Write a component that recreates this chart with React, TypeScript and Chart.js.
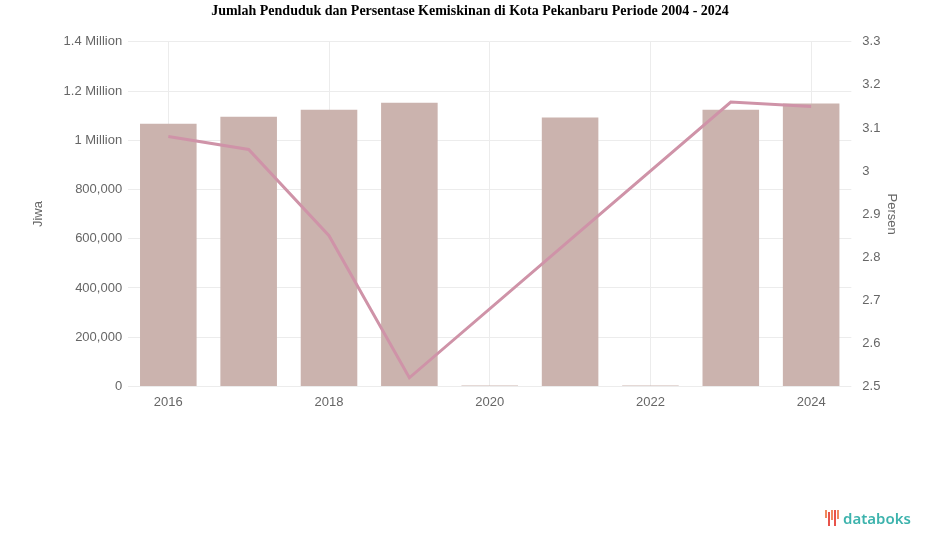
import React, { useEffect, useRef } from "react";
import { Chart, registerables } from "chart.js";

Chart.register(...registerables);

const years = ["2016", "2017", "2018", "2019", "2020", "2021", "2022", "2023", "2024"];
const population = [1067000, 1096000, 1124000, 1152000, 4000, 1092000, 4000, 1124000, 1149000];
const poverty = [3.08, 3.05, 2.85, 2.52, null, 2.84, null, 3.16, 3.15];
const leftTicks = [0, 200000, 400000, 600000, 800000, 1000000, 1200000, 1400000];
const rightTicks = [2.5, 2.6, 2.7, 2.8, 2.9, 3, 3.1, 3.2, 3.3];
const title = "Jumlah Penduduk dan Persentase Kemiskinan di Kota Pekanbaru Periode 2004 - 2024";

export default function App() {
  const ref = useRef<HTMLCanvasElement | null>(null);

  useEffect(() => {
    const canvas = ref.current;
    if (!canvas) return;
    const tickFont = { family: "'Liberation Sans', Arial, sans-serif", size: 13 };
    const chart = new Chart(canvas, {
      type: "bar",
      data: {
        labels: years,
        datasets: [
          {
            type: "line",
            label: "Persen",
            data: poverty,
            yAxisID: "y1",
            borderColor: "#cf93a8",
            backgroundColor: "#cf93a8",
            borderWidth: 3,
            pointRadius: 0,
            spanGaps: true,
            tension: 0,
            order: 0,
          },
          {
            type: "bar",
            label: "Jiwa",
            data: population,
            yAxisID: "y",
            backgroundColor: "#cbb3ae",
            categoryPercentage: 0.8,
            barPercentage: 0.88,
            order: 1,
          },
        ],
      },
      options: {
        animation: false,
        responsive: false,
        maintainAspectRatio: false,
        layout: { padding: { left: 31, right: 16, top: 3, bottom: 129 } },
        plugins: {
          legend: { display: false },
          tooltip: { enabled: false },
          title: {
            display: true,
            text: title,
            color: "#000",
            font: { family: "'Liberation Serif', 'Times New Roman', serif", size: 14, weight: "bold" },
            padding: { top: 0, bottom: 22 },
          },
        },
        scales: {
          x: {
            grid: {
              offset: false,
              color: (c: any) => (c.index % 2 === 0 ? "#ececec" : "transparent"),
              drawTicks: false,
            },
            border: { display: false },
            ticks: {
              autoSkip: false,
              maxRotation: 0,
              padding: 8,
              color: "#666",
              font: tickFont,
              callback: (_v: any, i: number) => (i % 2 === 0 ? years[i] : ""),
            },
          },
          y: {
            position: "left",
            min: leftTicks[0],
            max: leftTicks[leftTicks.length - 1],
            afterBuildTicks: (axis: any) => {
              axis.ticks = leftTicks.map((v) => ({ value: v }));
            },
            grid: { color: "#ececec", drawTicks: false },
            border: { display: false },
            ticks: {
              padding: 6,
              color: "#666",
              font: tickFont,
              callback: (v: any) =>
                v >= 1000000 ? `${v / 1000000} Million` : Number(v).toLocaleString("en-US"),
            },
            title: {
              display: true,
              text: "Jiwa",
              color: "#666",
              font: { family: "'Liberation Sans', Arial, sans-serif", size: 13 },
              padding: { top: 0, bottom: 11 },
            },
          },
          y1: {
            position: "right",
            min: rightTicks[0],
            max: rightTicks[rightTicks.length - 1],
            afterBuildTicks: (axis: any) => {
              axis.ticks = rightTicks.map((v) => ({ value: v }));
            },
            grid: { display: false },
            border: { display: false },
            ticks: {
              padding: 3,
              color: "#666",
              font: tickFont,
              callback: (v: any) => String(Math.round(v * 10) / 10),
            },
            title: {
              display: true,
              text: "Persen",
              color: "#666",
              font: { family: "'Liberation Sans', Arial, sans-serif", size: 13 },
              padding: { top: 10, bottom: 0 },
            },
          },
        },
      },
    });
    return () => chart.destroy();
  }, []);

  return (
    <div style={{ position: "fixed", left: 0, top: 0, width: 925, height: 547, background: "#fff" }}>
      <canvas ref={ref} width={925} height={547} style={{ display: "block" }} />
      <div
        style={{
          position: "absolute",
          left: 825,
          top: 508,
          display: "flex",
          alignItems: "center",
          fontFamily: "'Noto Sans', Roboto, sans-serif",
          fontSize: 15,
          fontWeight: 600,
          color: "#3db3ad",
        }}
      >
        <span style={{ display: "flex", alignItems: "flex-end", height: 16, marginRight: 3 }}>
          {[8, 14, 10, 16, 9].map((h, i) => (
            <span
              key={i}
              style={{
                display: "inline-block",
                width: 2,
                height: h,
                marginRight: 1,
                background: i % 2 === 0 ? "#f08a5d" : "#e8534a",
                alignSelf: i % 2 === 0 ? "flex-start" : "flex-end",
              }}
            />
          ))}
        </span>
        <span>databoks</span>
      </div>
    </div>
  );
}
